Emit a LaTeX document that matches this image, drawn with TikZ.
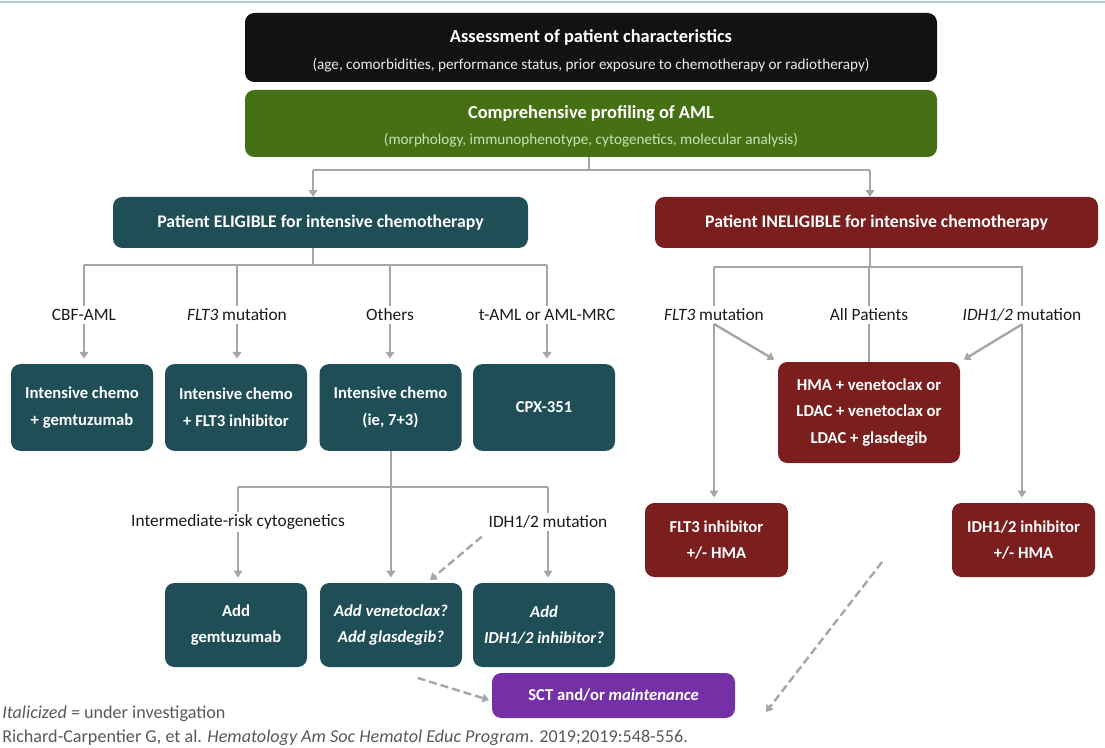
\documentclass[tikz,border=0pt]{standalone}
\usepackage{fontspec}
\setmainfont{Carlito}
\usetikzlibrary{arrows.meta,calc}
\definecolor{tealbx}{HTML}{1F4E56}
\definecolor{redbx}{HTML}{7A1E1E}
\definecolor{greenbx}{HTML}{467014}
\definecolor{blackbx}{HTML}{121212}
\definecolor{purplebx}{HTML}{7530A8}
\definecolor{linegrey}{HTML}{A6A6A6}
\definecolor{topline}{HTML}{A9C9D1}
\definecolor{subgreen}{HTML}{C9E2B3}
\definecolor{lbltext}{HTML}{1A1A1A}
\definecolor{foot}{HTML}{595959}
\tikzset{
  box/.style={rounded corners=7pt, text=white, align=center, inner sep=0pt,
    font=\fontsize{12.5}{20}\selectfont\bfseries},
  tbox/.style={box, fill=tealbx, minimum width=106.5pt, minimum height=65pt},
  t2box/.style={box, fill=tealbx, minimum width=106.5pt, minimum height=63pt},
  rbox/.style={box, fill=redbx},
  ttl/.style={text=white, inner sep=0pt, font=\fontsize{13.8}{16}\selectfont\bfseries},
  subttl/.style={inner sep=0pt, font=\fontsize{11.4}{13}\selectfont},
  lbl/.style={font=\fontsize{13}{16}\selectfont, text=lbltext, inner sep=2pt},
  conn/.style={draw=linegrey, line width=1.8pt},
  arr/.style={conn, -{Triangle[length=5pt,width=6.5pt]}},
  darr/.style={arr, dash pattern=on 6pt off 3pt},
  foottext/.style={font=\fontsize{13.6}{16}\selectfont, text=foot, inner sep=0pt, anchor=west}
}
\begin{document}
\begin{tikzpicture}[x=0.75pt,y=-0.75pt]
\useasboundingbox (0,0) rectangle (1105,748);
\draw[topline, line width=1.2pt] (0,2) -- (1105,2);

% top boxes
\node[box, fill=blackbx, minimum width=519pt, minimum height=51.75pt] (assess) at (591,47.5) {};
\node[ttl] (assesst) at (591,37) {Assessment of patient characteristics};
\node[subttl, text=white!92!black] (assesss) at (591,65)
  {(age, comorbidities, performance status, prior exposure to chemotherapy or radiotherapy)};
\node[box, fill=greenbx, minimum width=519pt, minimum height=50.25pt] (prof) at (591,123.5) {};
\node[ttl] (proft) at (591,114) {Comprehensive profiling of AML};
\node[subttl, text=subgreen] (profs) at (591,140)
  {(morphology, immunophenotype, cytogenetics, molecular analysis)};

\node[box, fill=tealbx, minimum width=311.25pt, minimum height=38.25pt,
  font=\fontsize{13.3}{16}\selectfont\bfseries] (elig) at (320.5,222.5)
  {Patient ELIGIBLE for intensive chemotherapy};
\node[box, fill=redbx, minimum width=332.25pt, minimum height=38.25pt,
  font=\fontsize{13.3}{16}\selectfont\bfseries] (inel) at (876.5,222.5)
  {Patient INELIGIBLE for intensive chemotherapy};

\coordinate (j1) at (589,170);
\coordinate (jl) at (313,170);
\coordinate (jr) at (870,170);
\draw[conn] (prof.south -| j1) -- (j1);
\draw[conn] (jl) -- (jr);
\draw[arr] (jl) -- (jl |- elig.north);
\draw[arr] (jr) -- (jr |- inel.north);

% eligible branch, level 1
\node[lbl] (l1) at (84,315) {CBF-AML};
\node[lbl] (l2) at (237,315) {\textit{FLT3} mutation};
\node[lbl] (l3) at (390,315) {Others};
\node[lbl] (l4) at (547,315) {t-AML or AML-MRC};

\node[tbox] (b1) at (82,407.5) {Intensive chemo\\+ gemtuzumab};
\node[tbox] (b2) at (236,407.5) {Intensive chemo\\+ FLT3 inhibitor};
\node[tbox] (b3) at (390.5,407.5) {Intensive chemo\\(ie, 7+3)};
\node[tbox] (b4) at (544,407.5) {CPX-351};

\coordinate (ej) at (313,265);
\coordinate (h1l) at (84,265);
\coordinate (h1r) at (547,265);
\draw[conn] (ej |- elig.south) -- (ej);
\draw[conn] (h1l) -- (h1r);
\foreach \l/\b in {l1/b1,l2/b2,l3/b3,l4/b4}{
  \draw[conn] (\l |- h1l) -- (\l.north);
  \draw[arr, shorten >=4pt] (\l.south) -- (\l.south |- \b.north);
}

% eligible branch, level 2
\node[lbl] (l5) at (238,522) {Intermediate-risk cytogenetics};
\node[lbl] (l6) at (548,522) {IDH1/2 mutation};
\node[t2box] (b5) at (236,625) {Add\\gemtuzumab};
\node[t2box] (b6) at (391,625) {\textit{Add venetoclax?}\\\textit{Add glasdegib?}};
\node[t2box] (b7) at (544,625) {\textit{Add}\\\textit{IDH1/2 inhibitor?}};

\coordinate (oj) at (391,487);
\coordinate (h2l) at (238,487);
\coordinate (h2r) at (548,487);
\draw[conn] (b3.south -| oj) -- (oj);
\draw[conn] (h2l) -- (h2r);
\draw[conn] (h2l) -- (l5.north);
\draw[conn] (h2r) -- (l6.north);
\draw[arr, shorten >=4pt] (oj) -- (b6.north);
\draw[arr, shorten >=4pt] (l5.south) -- (l5.south |- b5.north);
\draw[arr, shorten >=4pt] (l6.south) -- (l6.south |- b7.north);
\draw[darr, shorten >=3pt] ([xshift=-3pt,yshift=-4pt]l6.south west) -- ([xshift=27pt]b6.north);

% ineligible branch
\node[lbl] (r1) at (714,315) {\textit{FLT3} mutation};
\node[lbl] (r2) at (869,315) {All Patients};
\node[lbl] (r3) at (1022,315) {\textit{IDH1/2} mutation};
\node[rbox, minimum width=136.5pt, minimum height=75.75pt] (hma) at (869,412.5)
  {HMA + venetoclax or\\LDAC + venetoclax or\\LDAC + glasdegib};
\node[rbox, minimum width=107.25pt, minimum height=55.5pt] (fi) at (716.5,540)
  {FLT3 inhibitor\\+/- HMA};
\node[rbox, minimum width=107.25pt, minimum height=55.5pt] (ii) at (1023.5,540)
  {IDH1/2 inhibitor\\+/- HMA};

\coordinate (ij) at (870,267);
\coordinate (h3l) at (714,267);
\coordinate (h3r) at (1023,267);
\draw[conn] (ij |- inel.south) -- (ij);
\draw[conn] (h3l) -- (h3r);
\foreach \l in {r1,r2,r3}{ \draw[conn] (\l |- h3l) -- (\l.north); }
\draw[arr, shorten >=4pt] (r1.south) -- (r1.south |- fi.north);
\draw[arr, shorten >=3pt] (r1.south) -- (hma.north west);
\draw[conn] (r2.south) -- (r2.south |- hma.north);
\draw[arr, shorten >=3pt] (r3.south) -- (hma.north east);
\draw[arr, shorten >=4pt] (r3.south) -- (r3.south |- ii.north);

% SCT
\node[box, fill=purplebx, minimum width=182.25pt, minimum height=33.75pt] (sct) at (613.5,695.5)
  {SCT and/or \textit{maintenance}};
\draw[darr, shorten >=2pt] ([xshift=20pt,yshift=-8pt]b6.south) -- ([yshift=-4pt]sct.west);
\coordinate (d3s) at (882,562);
\coordinate (d3e) at (766,712);
\draw[darr] (d3s) -- (d3e);

% footer
\node[foottext] (note) at (2,714) {\textit{Italicized} = under investigation};
\node[foottext] (cite) at (2,738) {Richard-Carpentier G, et al. \textit{Hematology Am Soc Hematol Educ Program}. 2019;2019:548-556.};
\end{tikzpicture}
\end{document}
